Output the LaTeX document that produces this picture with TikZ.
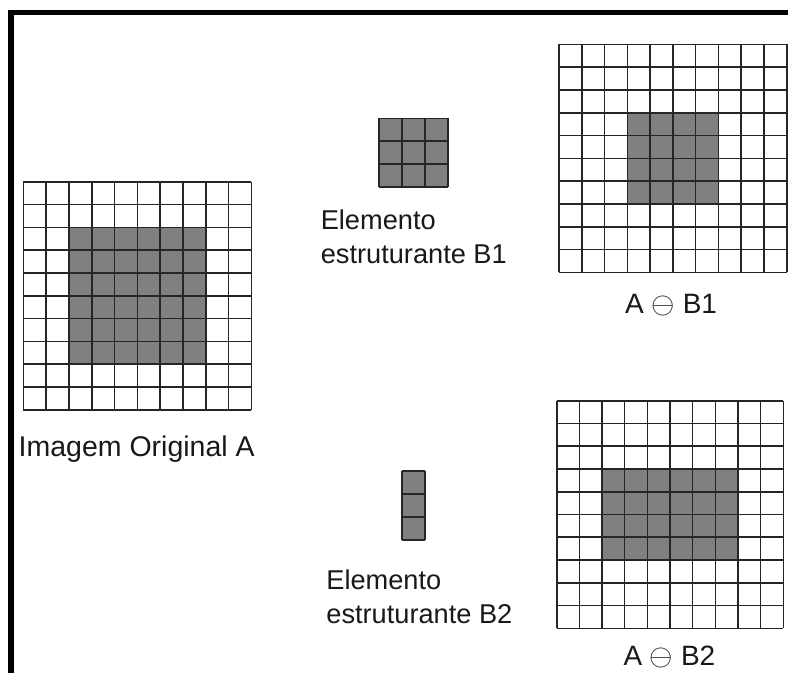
\documentclass[tikz,border=0pt]{standalone}
\usepackage{graphicx}
\usepackage{fontspec}
\setmainfont{Liberation Sans}
\tikzset{
  gridline/.style={draw=black!85, line width=1.6pt, line cap=square},
  cellfill/.style={fill=gray},
  frameline/.style={draw=black, line width=5.5pt},
  lbl/.style={inner sep=0pt, anchor=base west, text=black!90},
  lbltwo/.style={inner sep=0pt, anchor=north west, align=left, text=black!90, font=\fontsize{27.2pt}{33.4pt}\selectfont},
}
\newcommand{\mygrid}[2]{%
  \foreach \i in {0,...,#1} {\draw[gridline] (\i,0) -- (\i,#2);}
  \foreach \j in {0,...,#2} {\draw[gridline] (0,\j) -- (#1,\j);}
}
\newcommand{\erodeop}{\scalebox{3}{\fontsize{10pt}{12pt}\selectfont$\ominus$}}
\begin{document}
\begin{tikzpicture}
\useasboundingbox (0pt,0pt) rectangle (788pt,-673pt);
\fill[white] (0pt,0pt) rectangle (788pt,-673pt);
% frame
\draw[frameline] (11pt,-673pt) -- (11pt,-12.5pt) -- (788pt,-12.5pt);
% original image A
\begin{scope}[shift={(23.3pt,-181.7pt)}, x=22.8pt, y=-22.8pt]
  \fill[cellfill] (2,2) rectangle (8,8);
  \mygrid{10}{10}
\end{scope}
% structuring element B1
\begin{scope}[shift={(379pt,-118.3pt)}, x=22.9pt, y=-22.8pt]
  \fill[cellfill] (0,0) rectangle (3,3);
  \mygrid{3}{3}
\end{scope}
% result A erosion B1
\begin{scope}[shift={(559pt,-44.3pt)}, x=22.77pt, y=-22.8pt]
  \fill[cellfill] (3,3) rectangle (7,7);
  \mygrid{10}{10}
\end{scope}
% structuring element B2
\begin{scope}[shift={(401.7pt,-471pt)}, x=23.3pt, y=-23pt]
  \fill[cellfill] (0,0) rectangle (1,3);
  \mygrid{1}{3}
\end{scope}
% result A erosion B2
\begin{scope}[shift={(556.7pt,-400.7pt)}, x=22.66pt, y=-22.76pt]
  \fill[cellfill] (2,3) rectangle (8,7);
  \mygrid{10}{10}
\end{scope}
% labels
\node[lbltwo] (eb1) at (320.6pt,-210pt) {Elemento\\estruturante B1};
\node[lbltwo] (eb2) at (326.2pt,-570pt) {Elemento\\estruturante B2};
\node[lbl, font=\fontsize{28.5pt}{35pt}\selectfont] (ia) at (18.5pt,-456.7pt) {Imagem Original A};
\node[lbl, font=\fontsize{28pt}{34pt}\selectfont] (r1) at (625pt,-313.3pt) {A \erodeop{} B1};
\node[lbl, font=\fontsize{28pt}{34pt}\selectfont] (r2) at (623.3pt,-665pt) {A \erodeop{} B2};
\end{tikzpicture}
\end{document}
